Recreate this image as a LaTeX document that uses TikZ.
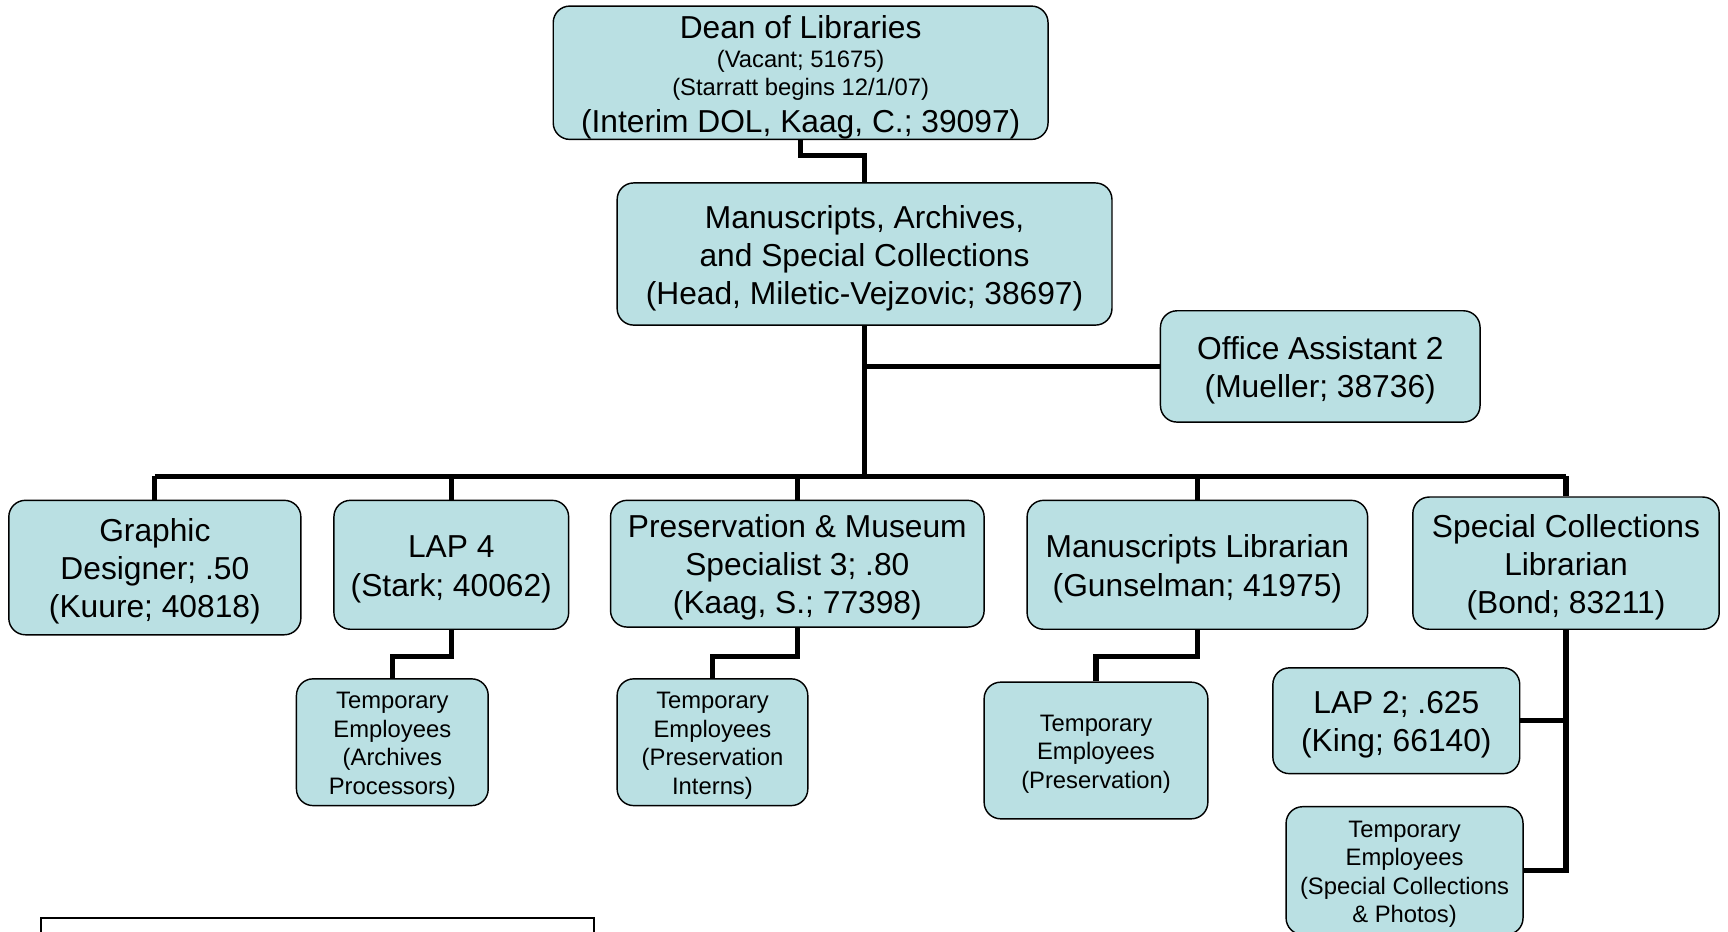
\documentclass[tikz,border=0pt]{standalone}
\usepackage{fontspec}
\setmainfont{Liberation Sans}
\newcommand\BigTxt{\fontsize{28.8}{34.6}\selectfont}
\newcommand\SmallTxt{\fontsize{21.6}{26}\selectfont}
\newcommand\BStr{\rule{0pt}{28pt}}
\newcommand\SStr{\rule{0pt}{21.5pt}}
\definecolor{boxblue}{RGB}{186,224,227}
\tikzset{
  basebox/.style={draw=black, line width=1.3pt, fill=boxblue, rounded corners=15pt,
    align=center, inner sep=0pt},
  orgbox/.style={basebox, font=\BigTxt},
  tempbox/.style={basebox, font=\SmallTxt},
  conn/.style={draw=black, line width=4.6pt},
}
\begin{document}
\begin{tikzpicture}[x=1pt,y=-1pt]
\useasboundingbox (0,0) rectangle (1568,845.7);
\clip (0,0) rectangle (1568,845.7);
% boxes
\node[basebox, minimum width=449pt, minimum height=120pt] (dean) at (726.5,66)
  {\parbox{440pt}{\centering
   \fontsize{28.8}{30}\selectfont\rule{0pt}{29pt}Dean of Libraries\par
   \fontsize{21.6}{26.4}\selectfont (Vacant; 51675)\par
   \fontsize{21.6}{26}\selectfont (Starratt begins 12/1/07)\par
   \fontsize{28.8}{33.6}\selectfont (Interim DOL, Kaag, C.; 39097)\par}};
\node[orgbox, minimum width=449pt, minimum height=129pt] (masc) at (784.5,230.5)
  {\BStr Manuscripts, Archives,\\and Special Collections\\(Head, Miletic-Vejzovic; 38697)};
\node[orgbox, minimum width=290pt, minimum height=101pt] (office) at (1198,332.5)
  {\BStr Office Assistant 2\\(Mueller; 38736)};
\node[orgbox, minimum width=265pt, minimum height=122pt] (graphic) at (140.5,515)
  {\BStr Graphic\\Designer; .50\\(Kuure; 40818)};
\node[orgbox, minimum width=213pt, minimum height=117pt] (lap4) at (409.5,512.5)
  {\BStr LAP 4\\(Stark; 40062)};
\node[orgbox, minimum width=339pt, minimum height=115pt] (pres) at (723.5,511.5)
  {\BStr Preservation \& Museum\\Specialist 3; .80\\(Kaag, S.; 77398)};
\node[orgbox, minimum width=309pt, minimum height=117pt] (mlib) at (1086.5,512.5)
  {\BStr Manuscripts Librarian\\(Gunselman; 41975)};
\node[orgbox, minimum width=278pt, minimum height=120pt] (scl) at (1421,511)
  {\BStr Special Collections\\Librarian\\(Bond; 83211)};
\node[tempbox, minimum width=174pt, minimum height=115pt] (tarch) at (356,673.5)
  {\SStr Temporary\\Employees\\(Archives\\Processors)};
\node[tempbox, minimum width=173pt, minimum height=115pt] (tpi) at (646.5,673.5)
  {\SStr Temporary\\Employees\\(Preservation\\Interns)};
\node[tempbox, minimum width=203pt, minimum height=124pt] (tpres) at (994.5,681)
  {\SStr Temporary\\Employees\\(Preservation)};
\node[orgbox, minimum width=224pt, minimum height=96pt] (lap2) at (1267,654)
  {\BStr LAP 2; .625\\(King; 66140)};
\node[tempbox, minimum width=215pt, minimum height=116pt] (tsc) at (1274.5,790)
  {\SStr Temporary\\Employees\\(Special Collections\\\& Photos)};
\node[draw=black, line width=2pt, minimum width=502pt, minimum height=60pt, inner sep=0pt] (legend) at (288,863) {};
% helper coordinates
\coordinate (k0) at (0,141);
\coordinate (bus) at (784.5,432);
\coordinate (k1) at (0,596);
% connectors
\draw[conn] (dean.south) |- (k0 -| masc.north) -- (masc.north);
\draw[conn] (masc.south) -- (bus);
\draw[conn] (masc.south |- office.west) -- (office.west);
\draw[conn] (graphic.north |- bus) -- (scl.north |- bus);
\draw[conn] (graphic.north |- bus) -- (graphic.north);
\draw[conn] (lap4.north |- bus) -- (lap4.north);
\draw[conn] (pres.north |- bus) -- (pres.north);
\draw[conn] (mlib.north |- bus) -- (mlib.north);
\draw[conn] (scl.north |- bus) -- (scl.north);
\draw[conn] (lap4.south) -- (lap4.south |- k1) -| (tarch.north);
\draw[conn] (pres.south) -- (pres.south |- k1) -| (tpi.north);
\draw[conn] (mlib.south) -- (mlib.south |- k1) -| (tpres.north);
\draw[conn] (scl.south) |- (tsc.east);
\draw[conn] (scl.south |- lap2.east) -- (lap2.east);
\end{tikzpicture}
\end{document}
